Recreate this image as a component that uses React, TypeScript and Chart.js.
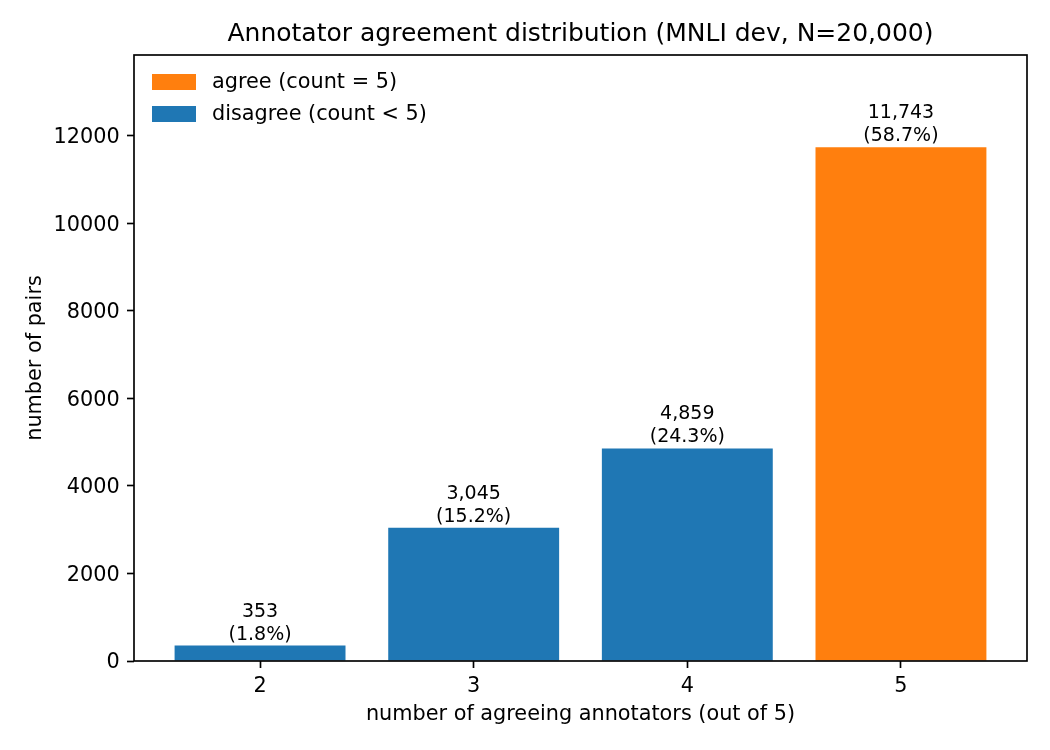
import React, { useEffect, useRef } from "react";
import { Chart, registerables } from "chart.js";

Chart.register(...registerables);

// ---- data ----
const categories = [2, 3, 4, 5];
const counts = [353, 3045, 4859, 11743];
const countLabels = ["353", "3,045", "4,859", "11,743"];
const percentLabels = ["(1.8%)", "(15.2%)", "(24.3%)", "(58.7%)"];
const seriesNames = ["agree (count = 5)", "disagree (count < 5)"];
const yTickValues = [0, 2000, 4000, 6000, 8000, 10000, 12000];
const xTickValues = [2, 3, 4, 5];
const titleText = "Annotator agreement distribution (MNLI dev, N=20,000)";
const xTitle = "number of agreeing annotators (out of 5)";
const yTitle = "number of pairs";

const AGREE = "#ff7f0e";
const DISAGREE = "#1f77b4";
const FONT = "'DejaVu Sans', sans-serif";

const disagreeData = categories
  .map((c, i) => ({ x: c, y: counts[i] }))
  .filter((d) => d.x < 5);
const agreeData = categories
  .map((c, i) => ({ x: c, y: counts[i] }))
  .filter((d) => d.x === 5);

const overlayPlugin = {
  id: "overlay",
  afterDatasetsDraw(chart: any) {
    const ctx = chart.ctx;
    const area = chart.chartArea;
    ctx.save();
    // bar labels
    ctx.fillStyle = "#000";
    ctx.font = `19px ${FONT}`;
    ctx.textAlign = "center";
    ctx.textBaseline = "alphabetic";
    chart.data.datasets.forEach((ds: any, di: number) => {
      const meta = chart.getDatasetMeta(di);
      meta.data.forEach((el: any, j: number) => {
        const xv = ds.data[j].x;
        const idx = categories.indexOf(xv);
        ctx.fillText(countLabels[idx], el.x, el.y - 29);
        ctx.fillText(percentLabels[idx], el.x, el.y - 6);
      });
    });
    // frame
    ctx.strokeStyle = "#000";
    ctx.lineWidth = 1.67;
    ctx.strokeRect(area.left, area.top, area.right - area.left, area.bottom - area.top);
    // legend
    const colors = [AGREE, DISAGREE];
    ctx.font = `20.8px ${FONT}`;
    ctx.textAlign = "left";
    ctx.textBaseline = "middle";
    seriesNames.forEach((name, i) => {
      const bx = area.left + 18;
      const by = area.top + 19 + i * 32;
      ctx.fillStyle = colors[i];
      ctx.fillRect(bx, by, 44, 16);
      ctx.fillStyle = "#000";
      ctx.fillText(name, bx + 60, by + 9);
    });
    ctx.restore();
  },
};

const tickGrid = {
  display: true,
  drawOnChartArea: false,
  drawTicks: true,
  offset: false,
  tickLength: 7,
  tickWidth: 1.67,
  tickColor: "#000",
};

export default function App() {
  const ref = useRef<HTMLCanvasElement | null>(null);
  useEffect(() => {
    if (!ref.current) return;
    Chart.defaults.color = "#000";
    const chart = new Chart(ref.current, {
      type: "bar",
      data: {
        datasets: [
          {
            label: seriesNames[1],
            data: disagreeData as any,
            backgroundColor: DISAGREE,
            borderWidth: 0,
            grouped: false,
            barPercentage: 0.8,
            categoryPercentage: 1,
          } as any,
          {
            label: seriesNames[0],
            data: agreeData as any,
            backgroundColor: AGREE,
            borderWidth: 0,
            grouped: false,
            barPercentage: 0.8,
            categoryPercentage: 1,
          } as any,
        ],
      },
      options: {
        responsive: false,
        animation: false,
        devicePixelRatio: 1,
        layout: { padding: { left: 0, right: 23, top: 0, bottom: 0 } },
        plugins: {
          legend: { display: false },
          tooltip: { enabled: false },
          title: {
            display: true,
            fullSize: false,
            text: titleText,
            color: "#000",
            font: { family: FONT, size: 25, weight: "normal", lineHeight: 1.2 },
            padding: { top: 19, bottom: 6 },
          },
        },
        scales: {
          x: {
            type: "linear",
            offset: false,
            min: 1.41,
            max: 5.59,
            grid: tickGrid,
            border: { display: false },
            afterBuildTicks: (scale: any) => {
              scale.ticks = xTickValues.map((v) => ({ value: v }));
            },
            ticks: {
              autoSkip: false,
              maxRotation: 0,
              padding: 6.5,
              color: "#000",
              font: { family: FONT, size: 20.8, lineHeight: 1.2 },
              callback: (v: any) => String(v),
            },
            title: {
              display: true,
              text: xTitle,
              color: "#000",
              font: { family: FONT, size: 20.8, lineHeight: 1.2 },
              padding: { top: 0, bottom: 22.5 },
            },
            afterFit: (scale: any) => {
              scale.height = 89;
            },
          },
          y: {
            type: "linear",
            min: 0,
            max: 13850,
            grid: tickGrid,
            border: { display: false },
            afterBuildTicks: (scale: any) => {
              scale.ticks = yTickValues.map((v) => ({ value: v }));
            },
            ticks: {
              padding: 7.3,
              labelOffset: 2,
              color: "#000",
              font: { family: FONT, size: 20.8, lineHeight: 1.2 },
              callback: (v: any) => String(v),
            },
            title: {
              display: true,
              text: yTitle,
              color: "#000",
              font: { family: FONT, size: 20.8, lineHeight: 1.2 },
              padding: { top: 23.5, bottom: 0 },
            },
            afterFit: (scale: any) => {
              scale.width = 134;
            },
          },
        },
      } as any,
      plugins: [overlayPlugin],
    });
    return () => chart.destroy();
  }, []);
  return (
    <div style={{ position: "absolute", left: 0, top: 0, width: 1050, height: 750, background: "#fff" }}>
      <canvas ref={ref} width={1050} height={750} style={{ width: 1050, height: 750, display: "block" }} />
    </div>
  );
}
